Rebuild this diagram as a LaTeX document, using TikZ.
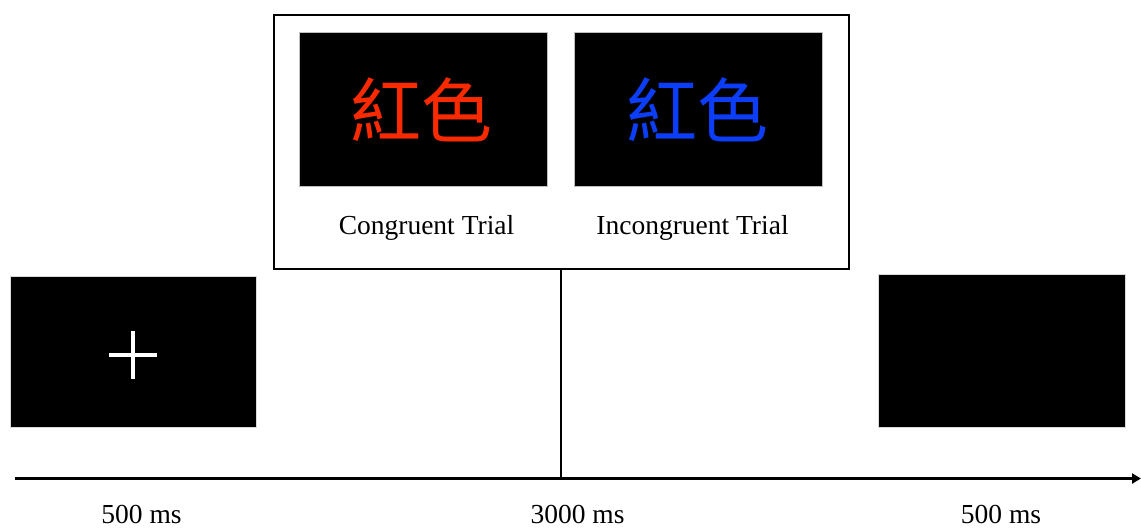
\documentclass[tikz,border=0pt]{standalone}
\usepackage{fontspec}
\setmainfont{Liberation Serif}
\newfontfamily\cjk{Noto Sans CJK TC}
\usetikzlibrary{arrows.meta}
\definecolor{stroopred}{RGB}{250,42,0}
\definecolor{stroopblue}{RGB}{12,62,250}
\begin{document}
\begin{tikzpicture}[x=1pt,y=-1pt,
  screen/.style={fill=black,draw=black!15,line width=0.8pt,inner sep=0pt},
  lbl/.style={font=\fontsize{27.5}{30}\selectfont,inner sep=0pt,anchor=base},
  word/.style={font=\cjk\fontsize{71}{73}\selectfont,inner sep=0pt}]
\useasboundingbox (0,0) rectangle (1141,528);
% fixation screen
\node[screen,minimum width=246pt,minimum height=151pt] (fix) at (133.5,352) {};
\draw[white,line width=3.6pt] (109,355) -- (157,355) (133,331) -- (133,379);
% blank screen
\node[screen,minimum width=247pt,minimum height=153pt] (blank) at (1001.5,350.5) {};
% stimulus frame
\draw[line width=2pt] (273.5,15) rectangle (848.5,268.5);
\node[minimum width=575pt,minimum height=253.5pt,inner sep=0pt] (frame) at (561,141.75) {};
\node[screen,draw=black!25,minimum width=248pt,minimum height=154pt] (cong) at (423.5,109.7) {};
\node[screen,draw=black!25,minimum width=248pt,minimum height=154pt] (incong) at (698.3,109.5) {};
\node[word,text=stroopred] (w1) at (421,110) {紅色};
\node[word,text=stroopblue] (w2) at (697,110) {紅色};
\node[lbl] (l1) at (426.5,234) {Congruent Trial};
\node[lbl] (l2) at (692.5,234) {Incongruent Trial};
% time axis
\coordinate (axs) at (15,478.5);
\coordinate (axe) at (1141,478.5);
\coordinate (axm) at (560.5,478.5);
\draw[line width=2.7pt,-{Triangle[length=9pt,width=10pt]}] (axs) -- (axe);
\draw[line width=2pt] (frame.south -| axm) -- (axm);
\node[lbl] (t1) at (141.5,523.5) {500 ms};
\node[lbl] (t2) at (577.5,523.5) {3000 ms};
\node[lbl] (t3) at (1001,523.5) {500 ms};
\end{tikzpicture}
\end{document}
